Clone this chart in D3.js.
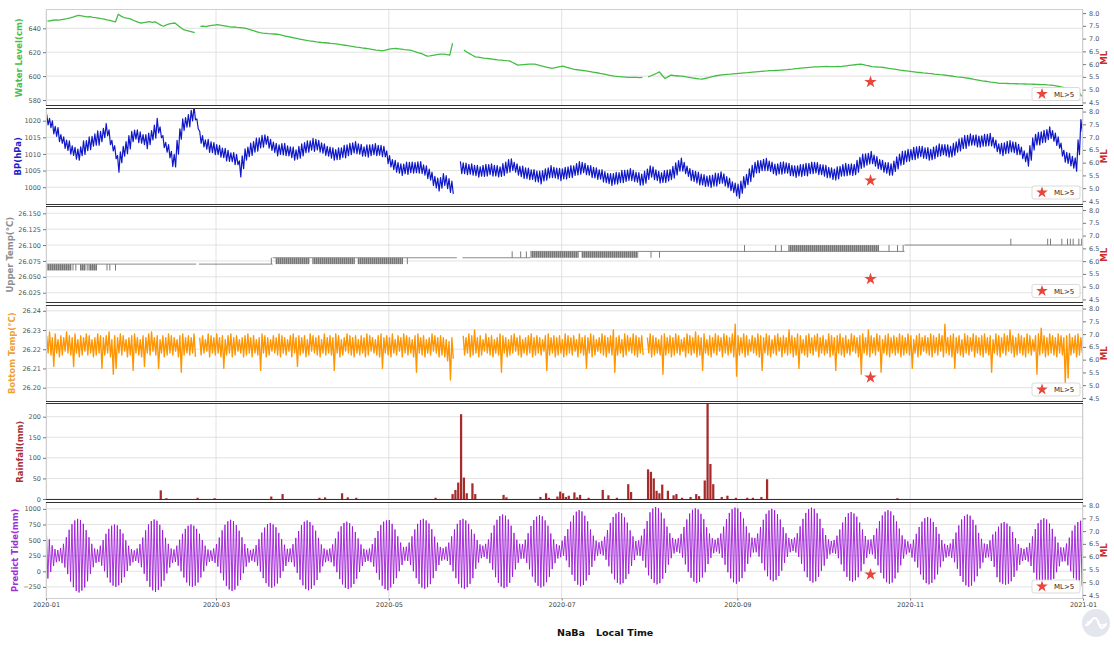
<!DOCTYPE html>
<html>
<head>
<meta charset="utf-8">
<script src="https://cdn.jsdelivr.net/npm/d3@7"></script>
<style>
  body { margin: 0; background: #fff; }
  svg { display: block; font-family: "DejaVu Sans", sans-serif; }
</style>
</head>
<body>
<svg id="chart" width="1114" height="646"></svg>
<script>
// ---------------- data (NaBa station, 2020, one entry per day from 2020-01-01) ----------------
const startDay = "2020-01-01";
const endDay = "2021-01-01";
const monthTicks = ["2020-01-01","2020-03-01","2020-05-01","2020-07-01","2020-09-01","2020-11-01","2021-01-01"];

// daily water level (cm)
const waterLevel = [
646.0,646.3,646.7,647.0,646.8,647.2,647.6,648.0,648.6,649.3,650.1,
650.8,650.4,650.0,649.6,649.8,649.2,648.9,648.5,648.0,647.6,
647.0,646.6,645.9,645.3,651.7,650.2,649.0,648.4,648.0,647.1,
646.0,645.2,644.4,644.8,645.2,645.6,645.0,645.3,644.0,642.6,
641.7,642.8,643.6,644.1,644.4,642.5,640.6,638.9,638.2,637.6,
637.0,636.4,null,641.5,641.8,641.4,642.0,642.4,642.7,643.0,
642.6,642.2,641.8,641.3,641.0,641.2,640.8,640.6,640.3,640.0,
639.2,638.5,637.8,637.0,636.3,636.0,635.8,635.5,635.3,635.2,
635.0,634.6,634.0,633.5,633.0,632.5,632.0,631.5,631.0,630.5,
630.0,629.6,629.3,629.0,628.6,628.3,628.0,627.9,627.7,627.4,
627.2,627.0,626.6,626.2,625.8,625.4,625.0,624.7,624.3,624.0,
623.6,623.3,623.0,622.6,622.2,621.8,621.5,621.1,621.6,622.2,
622.7,623.0,623.1,622.8,622.5,622.2,622.0,621.7,621.0,620.2,
619.5,618.9,617.8,616.7,617.0,617.4,617.8,618.2,618.4,618.3,
618.0,617.5,627.5,null,null,null,621.7,620.2,618.8,617.4,
616.1,615.8,615.4,615.0,614.8,614.5,614.2,613.9,613.6,613.4,
613.1,612.9,612.8,611.6,610.4,609.2,609.4,609.6,609.8,610.0,
610.1,610.0,609.4,608.8,608.2,607.6,607.0,606.4,606.9,607.5,
608.0,608.3,607.6,606.9,606.2,605.6,605.3,605.0,604.7,604.4,
604.0,603.6,603.2,602.8,602.3,601.9,601.4,600.9,600.4,600.0,
599.7,599.5,599.3,599.1,598.9,598.9,599.0,598.9,598.8,598.9,
null,599.4,600.3,601.3,602.4,603.6,600.5,598.0,599.4,600.8,
600.5,600.3,600.1,600.0,599.6,599.2,598.8,598.4,598.0,597.7,
597.5,598.0,598.6,599.2,599.8,600.3,600.7,601.0,601.2,601.4,
601.6,601.9,602.1,602.3,602.5,602.7,602.9,603.2,603.4,603.6,
603.8,604.0,604.2,604.3,604.5,604.6,604.7,604.8,605.0,605.2,
605.4,605.7,605.9,606.2,606.4,606.7,606.9,607.1,607.3,607.5,
607.7,607.8,608.0,608.0,608.1,608.0,607.9,608.0,608.1,608.0,
608.3,608.6,608.9,609.2,609.5,609.8,610.0,609.6,609.0,608.5,
608.0,607.8,607.6,607.5,607.2,606.8,606.4,606.1,605.8,605.4,
605.0,604.7,604.4,604.1,603.8,603.5,603.2,603.0,602.7,602.5,
602.2,602.0,601.7,601.5,601.2,601.0,600.7,600.4,600.1,599.7,
599.4,599.2,599.0,598.6,598.2,597.8,597.3,596.9,596.5,596.0,
595.7,595.4,595.0,594.7,594.4,594.0,594.0,593.9,593.8,593.7,
593.7,593.6,593.5,593.5,593.4,593.3,593.3,593.2,593.1,593.0,
592.9,592.8,592.6,592.5,592.2,591.8,591.3,590.8,590.3,589.7,
589.2,589.0,588.6,587.0,583.0
];

// daily mean barometric pressure (hPa)
const bpMean = [
1020.3,1019.3,1018.0,1016.8,1015.8,1014.5,1013.4,1012.6,1011.9,1011.0,
1010.2,1009.8,1010.8,1011.9,1012.5,1013.2,1013.8,1014.3,1014.8,1015.2,
1016.3,1017.3,1015.0,1012.5,1010.5,1007.0,1009.0,1010.8,1011.9,1013.5,
1015.2,1015.8,1015.3,1014.9,1014.3,1013.7,1014.5,1015.6,1016.7,1018.5,
1016.5,1013.7,1012.0,1010.8,1008.5,1008.0,1012.0,1016.0,1018.8,1019.5,
1020.0,1021.5,1022.3,1019.0,1015.0,1013.8,1012.8,1012.4,1012.0,1011.6,
1011.3,1010.8,1010.3,1009.8,1009.4,1009.0,1008.6,1008.3,1005.5,1007.5,
1009.8,1010.6,1011.4,1012.1,1012.8,1013.3,1013.8,1014.3,1013.5,1012.7,
1012.0,1011.3,1011.3,1011.4,1011.3,1010.9,1010.5,1010.1,1009.8,1010.5,
1011.2,1011.9,1012.2,1012.5,1012.7,1012.8,1012.3,1011.8,1011.3,1010.8,
1010.4,1010.0,1009.8,1010.1,1010.4,1010.7,1011.1,1011.5,1011.8,1011.9,
1011.5,1011.1,1010.7,1010.9,1011.1,1011.3,1011.3,1011.1,1010.9,1010.7,
1009.0,1007.8,1006.8,1006.3,1005.8,1005.3,1005.5,1005.7,1005.9,1005.9,
1005.9,1005.9,1005.9,1005.2,1004.5,1003.8,1002.5,1001.5,1000.8,1001.3,
1002.3,1001.5,1000.5,999.9,null,null,1005.9,1005.7,1005.5,1005.4,
1005.3,1005.0,1004.8,1004.7,1004.9,1005.1,1005.3,1005.2,1005.0,1004.8,
1004.7,1005.3,1005.9,1006.4,1006.8,1006.0,1005.3,1004.7,1004.5,1004.2,
1004.0,1003.8,1003.5,1003.2,1002.9,1003.4,1003.8,1004.3,1004.7,1004.4,
1004.1,1003.8,1004.0,1004.2,1004.5,1004.7,1005.0,1005.4,1005.8,1005.9,
1005.5,1005.1,1004.7,1004.4,1004.1,1003.8,1003.4,1003.0,1002.6,1002.3,
1002.5,1002.7,1002.9,1003.2,1003.4,1003.6,1003.8,1003.4,1003.0,1002.5,
1002.3,1003.0,1003.9,1004.7,1004.2,1003.6,1003.0,1002.9,1003.2,1003.5,
1003.8,1004.5,1005.5,1006.4,1006.8,1005.8,1004.8,1003.8,1003.4,1003.0,
1002.6,1002.3,1002.0,1001.8,1001.7,1002.0,1002.3,1002.6,1002.9,1002.2,
1001.5,1000.8,1000.0,999.3,998.8,1000.0,1001.5,1002.3,1003.6,1004.8,
1005.9,1006.2,1006.5,1006.7,1006.8,1006.3,1005.8,1005.3,1005.5,1005.7,
1005.9,1005.8,1005.3,1005.0,1004.7,1004.9,1005.0,1005.2,1005.3,1005.6,
1005.8,1005.9,1005.6,1005.3,1005.0,1004.7,1004.4,1004.1,1003.8,1004.3,
1004.8,1005.1,1005.3,1005.3,1005.3,1005.3,1006.3,1007.3,1008.0,1008.3,
1008.6,1008.9,1008.0,1007.4,1006.8,1006.3,1005.8,1005.5,1005.3,1006.3,
1007.3,1008.3,1008.8,1009.3,1009.6,1009.8,1010.1,1010.4,1010.7,1010.5,
1010.2,1010.0,1009.8,1010.3,1010.8,1011.2,1011.3,1011.1,1010.9,1010.7,
1011.4,1012.1,1012.7,1013.2,1013.6,1014.0,1014.3,1014.1,1013.9,1013.7,
1013.9,1014.1,1014.2,1014.3,1013.4,1012.4,1011.5,1011.3,1011.7,1012.0,
1012.3,1012.0,1011.6,1011.3,1010.3,1009.3,1008.3,1010.3,1013.0,1014.3,
1014.6,1015.0,1015.3,1015.8,1016.4,1015.4,1014.4,1013.4,1011.3,1009.3,
1008.8,1008.3,1007.5,1006.8,1012.0,1018.5
];

// daily pressure range (hPa)
const bpRange = [
3.2,2.8,3.9,3.0,4.2,2.6,3.5,3.1,4.0,2.9,
3.6,3.3,2.7,4.1,3.0,3.8,2.9,3.4,4.3,3.1,
2.8,3.7,4.5,3.2,3.9,5.0,3.3,2.9,3.6,4.0,
3.1,2.7,3.8,3.4,3.0,4.2,3.5,2.8,3.9,4.4,
3.3,3.6,2.9,4.0,4.6,3.8,4.2,3.1,3.5,2.9,
3.7,3.2,4.1,3.0,3.6,3.4,2.8,3.9,3.2,3.6,
3.0,3.5,2.9,3.8,3.3,2.7,3.6,3.1,4.8,3.9,
3.4,2.9,3.7,3.2,3.9,3.0,3.5,2.8,3.6,3.3,
3.1,3.8,2.9,3.4,3.7,3.0,3.3,3.9,2.8,3.5,
3.6,3.0,3.4,2.8,3.9,3.2,3.6,3.1,3.5,2.9,
3.3,3.7,3.0,3.5,2.9,3.8,3.2,3.4,3.0,3.6,
3.1,3.5,2.8,3.7,3.3,3.0,3.6,2.9,3.4,3.2,
3.8,3.4,3.0,3.6,3.2,3.5,2.9,3.7,3.1,3.3,
3.0,3.4,3.6,3.1,3.8,3.3,4.0,3.5,3.9,3.2,
3.6,3.9,4.2,3.8,3.0,3.0,3.7,3.2,3.5,2.9,
3.4,3.1,3.6,2.8,3.3,3.5,3.0,3.7,3.2,3.4,
2.9,3.6,3.3,3.8,3.5,3.0,3.4,3.1,3.7,3.2,
3.5,2.9,3.6,3.3,3.8,3.1,3.4,3.0,3.6,3.2,
3.3,3.7,3.0,3.5,3.2,3.6,2.9,3.4,3.8,3.1,
3.4,3.0,3.6,3.2,3.5,2.8,3.7,3.3,3.1,3.6,
3.2,3.5,3.0,3.7,3.3,3.1,3.6,3.4,3.0,3.8,
3.3,3.6,3.1,3.4,3.8,3.2,3.5,2.9,3.6,3.3,
3.0,3.5,3.7,3.2,3.9,3.4,3.1,3.6,3.3,3.5,
3.8,3.2,3.5,3.0,3.6,3.3,3.9,3.1,3.4,3.6,
3.3,3.7,3.2,3.9,4.2,3.6,3.4,3.1,3.8,3.5,
3.2,3.6,3.0,3.4,3.7,3.1,3.5,3.3,3.0,3.6,
3.4,3.1,3.7,3.2,3.5,3.0,3.6,3.3,3.8,3.1,
3.5,3.2,3.6,3.0,3.4,3.7,3.1,3.5,3.3,3.6,
3.0,3.4,3.7,3.2,3.5,3.1,3.6,3.3,3.9,3.4,
3.2,3.7,3.3,3.6,3.0,3.5,3.2,3.8,3.4,3.1,
3.6,3.3,3.9,3.2,3.5,3.0,3.7,3.4,3.1,3.6,
3.3,3.8,3.1,3.5,3.2,3.6,3.0,3.4,3.7,3.2,
3.5,3.1,3.6,3.3,3.9,3.2,3.4,3.0,3.6,3.3,
3.1,3.6,3.4,3.8,3.2,3.5,3.0,3.7,3.3,3.6,
3.4,3.2,3.7,3.1,3.5,3.3,3.9,4.4,3.6,3.2,
3.8,3.3,3.6,3.0,3.5,3.2,3.7,3.4,3.9,3.6,
3.3,3.8,3.5,4.0,4.4,3.6
];

// upper sensor temperature (°C): steady readings and periods flickering between two levels
const upperSteady = [
  ["2020-01-01","2020-02-23",26.07],
  ["2020-02-24","2020-03-21",26.07],
  ["2020-03-21","2020-05-25",26.08],
  ["2020-05-27","2020-06-20",26.08],
  ["2020-06-20","2020-10-30",26.09],
  ["2020-10-30","2021-01-01",26.10]
];
const upperFlicker = [
  ["2020-01-01","2020-01-09",26.06,26.07],
  ["2020-01-10","2020-01-10",26.06,26.07],
  ["2020-01-11","2020-01-11",26.06,26.07],
  ["2020-01-13","2020-01-14",26.06,26.07],
  ["2020-01-15","2020-01-15",26.06,26.07],
  ["2020-01-16","2020-01-18",26.06,26.07],
  ["2020-01-22","2020-01-22",26.06,26.07],
  ["2020-01-23","2020-01-23",26.06,26.07],
  ["2020-01-25","2020-01-25",26.06,26.07],
  ["2020-03-20","2020-03-20",26.07,26.08],
  ["2020-03-22","2020-04-02",26.07,26.08],
  ["2020-04-04","2020-04-18",26.07,26.08],
  ["2020-04-20","2020-05-05",26.07,26.08],
  ["2020-05-07","2020-05-07",26.07,26.08],
  ["2020-06-13","2020-06-13",26.08,26.09],
  ["2020-06-16","2020-06-16",26.08,26.09],
  ["2020-06-18","2020-06-18",26.08,26.09],
  ["2020-06-20","2020-07-06",26.08,26.09],
  ["2020-07-08","2020-07-27",26.08,26.09],
  ["2020-08-01","2020-08-01",26.08,26.09],
  ["2020-08-04","2020-08-04",26.08,26.09],
  ["2020-09-03","2020-09-03",26.09,26.10],
  ["2020-09-14","2020-09-14",26.09,26.10],
  ["2020-09-16","2020-09-16",26.09,26.10],
  ["2020-09-19","2020-10-20",26.09,26.10],
  ["2020-10-24","2020-10-24",26.09,26.10],
  ["2020-10-27","2020-10-27",26.09,26.10],
  ["2020-10-29","2020-10-29",26.09,26.10],
  ["2020-12-06","2020-12-06",26.10,26.11],
  ["2020-12-19","2020-12-19",26.10,26.11],
  ["2020-12-20","2020-12-20",26.10,26.11],
  ["2020-12-24","2020-12-24",26.10,26.11],
  ["2020-12-26","2020-12-26",26.10,26.11],
  ["2020-12-27","2020-12-27",26.10,26.11],
  ["2020-12-28","2020-12-28",26.10,26.11],
  ["2020-12-30","2020-12-30",26.10,26.11],
  ["2020-12-31","2020-12-31",26.10,26.11]
];

// daily max / min bottom temperature (°C)
const bottomMax = [
26.227,26.229,26.226,26.228,26.225,26.227,26.226,26.229,26.227,26.226,
26.228,26.225,26.227,26.226,26.228,26.227,26.225,26.226,26.228,26.227,
26.226,26.227,26.229,26.225,26.227,26.226,26.228,26.227,26.225,26.226,
26.227,26.228,26.226,26.225,26.227,26.226,26.228,26.229,26.226,26.227,
26.225,26.227,26.226,26.228,26.227,26.226,26.225,26.227,26.228,26.226,
26.227,26.226,26.228,null,26.226,26.227,26.225,26.228,26.227,26.226,
26.228,26.226,26.227,26.225,26.227,26.228,26.226,26.227,26.225,26.226,
26.227,26.228,26.226,26.227,26.225,26.226,26.228,26.227,26.226,26.225,
26.227,26.226,26.228,26.227,26.226,26.225,26.227,26.228,26.226,26.227,
26.226,26.227,26.225,26.228,26.227,26.226,26.227,26.225,26.228,26.226,
26.227,26.226,26.228,26.227,26.225,26.226,26.228,26.227,26.226,26.227,
26.225,26.227,26.226,26.228,26.227,26.226,26.225,26.227,26.228,26.226,
26.227,26.226,26.228,26.225,26.227,26.226,26.228,26.227,26.226,26.225,
26.227,26.228,26.226,26.227,26.225,26.226,26.228,26.227,26.226,26.227,
26.226,26.225,26.224,26.226,null,null,null,26.227,26.226,26.228,
26.227,26.230,26.226,26.227,26.225,26.228,26.226,26.227,26.225,26.226,
26.228,26.227,26.226,26.225,26.227,26.228,26.226,26.227,26.225,26.226,
26.227,26.228,26.226,26.227,26.226,26.225,26.227,26.228,26.226,26.227,
26.226,26.227,26.225,26.228,26.227,26.226,26.227,26.225,26.228,26.226,
26.227,26.226,26.228,26.227,26.225,26.226,26.228,26.227,26.226,26.227,
26.230,26.226,26.227,26.225,26.228,26.227,26.226,26.228,26.227,26.226,
26.227,null,26.226,26.228,26.227,26.226,26.225,26.227,26.228,26.226,
26.227,26.226,26.228,26.227,26.225,26.226,26.228,26.227,26.226,26.229,
26.227,26.226,26.228,26.225,26.227,26.226,26.228,26.227,26.226,26.228,
26.227,26.226,26.228,26.233,26.227,26.226,26.228,26.227,26.225,26.227,
26.226,26.228,26.227,26.226,26.228,26.227,26.225,26.227,26.228,26.226,
26.227,26.226,26.230,26.227,26.226,26.228,26.227,26.225,26.227,26.228,
26.226,26.227,26.228,26.226,26.227,26.225,26.228,26.227,26.226,26.227,
26.228,26.226,26.227,26.225,26.228,26.227,26.226,26.227,26.228,26.226,
26.230,26.227,26.226,26.228,26.227,26.225,26.227,26.228,26.226,26.227,
26.226,26.228,26.227,26.226,26.228,26.227,26.225,26.227,26.228,26.226,
26.227,26.226,26.228,26.227,26.226,26.228,26.227,26.233,26.226,26.227,
26.228,26.226,26.227,26.225,26.228,26.227,26.226,26.228,26.227,26.226,
26.227,26.228,26.226,26.227,26.225,26.228,26.227,26.226,26.228,26.227,
26.230,26.227,26.226,26.228,26.227,26.226,26.228,26.227,26.225,26.227,
26.228,26.231,26.227,26.226,26.228,26.227,26.226,26.228,26.227,26.226,
26.227,26.228,26.226,26.227,26.228,26.226
];
const bottomMin = [
26.218,26.217,26.211,26.218,26.216,26.217,26.219,26.218,26.217,26.211,
26.218,26.216,26.217,26.219,26.217,26.218,26.216,26.217,26.218,26.210,
26.217,26.218,26.216,26.207,26.210,26.218,26.217,26.219,26.216,26.217,
26.209,26.218,26.217,26.216,26.211,26.218,26.217,26.219,26.217,26.210,
26.218,26.216,26.217,26.218,26.217,26.219,26.216,26.208,26.217,26.218,
26.217,26.218,26.216,null,26.217,26.218,26.219,26.216,26.218,26.217,
26.218,26.216,26.210,26.217,26.218,26.216,26.217,26.219,26.218,26.216,
26.217,26.218,26.216,26.218,26.217,26.209,26.218,26.216,26.217,26.219,
26.218,26.217,26.216,26.218,26.217,26.219,26.216,26.218,26.211,26.217,
26.218,26.216,26.217,26.219,26.218,26.217,26.216,26.218,26.217,26.218,
26.217,26.209,26.218,26.216,26.217,26.219,26.218,26.217,26.216,26.218,
26.217,26.218,26.216,26.217,26.219,26.218,26.217,26.216,26.210,26.218,
26.217,26.216,26.218,26.217,26.219,26.216,26.218,26.217,26.218,26.216,
26.208,26.218,26.217,26.216,26.218,26.217,26.219,26.218,26.216,26.217,
26.216,26.214,26.204,26.215,null,null,null,26.217,26.218,26.216,
26.217,26.218,26.216,26.217,26.219,26.218,26.217,26.216,26.218,26.217,
26.208,26.218,26.216,26.217,26.218,26.219,26.217,26.216,26.218,26.217,
26.218,26.216,26.217,26.218,26.217,26.219,26.209,26.217,26.218,26.216,
26.217,26.218,26.216,26.217,26.218,26.217,26.219,26.216,26.218,26.217,
26.210,26.218,26.216,26.217,26.219,26.218,26.217,26.216,26.218,26.217,
26.208,26.217,26.218,26.216,26.217,26.219,26.218,26.217,26.216,26.218,
26.217,null,26.218,26.216,26.217,26.218,26.217,26.207,26.217,26.218,
26.216,26.217,26.218,26.217,26.219,26.216,26.218,26.217,26.218,26.216,
26.217,26.209,26.218,26.217,26.216,26.218,26.217,26.219,26.216,26.218,
26.217,26.218,26.216,26.206,26.217,26.218,26.216,26.217,26.219,26.218,
26.217,26.216,26.209,26.218,26.217,26.216,26.218,26.217,26.219,26.216,
26.218,26.217,26.218,26.216,26.217,26.210,26.218,26.217,26.216,26.218,
26.217,26.219,26.216,26.218,26.217,26.218,26.216,26.217,26.209,26.218,
26.217,26.216,26.218,26.217,26.219,26.218,26.216,26.207,26.218,26.217,
26.216,26.218,26.217,26.219,26.208,26.218,26.217,26.216,26.218,26.217,
26.218,26.216,26.217,26.218,26.217,26.210,26.218,26.216,26.217,26.219,
26.218,26.217,26.216,26.218,26.217,26.219,26.216,26.218,26.217,26.216,
26.210,26.218,26.217,26.216,26.218,26.217,26.219,26.216,26.218,26.217,
26.216,26.218,26.217,26.208,26.218,26.217,26.216,26.218,26.217,26.219,
26.218,26.216,26.217,26.218,26.217,26.216,26.218,26.217,26.219,26.207,
26.217,26.218,26.216,26.217,26.218,26.217,26.216,26.218,26.217,26.202,
26.205,26.217,26.218,26.216,26.217,26.218
];

// daily rainfall (mm), days with rain only
const rainfall = [
  ["2020-02-10",21],["2020-02-12",2],["2020-02-23",3],["2020-02-29",2],["2020-03-20",6],
  ["2020-03-24",12],["2020-04-06",3],["2020-04-08",4],["2020-04-14",14],["2020-04-16",4],
  ["2020-04-19",3],["2020-05-17",3],["2020-05-23",12],["2020-05-24",22],["2020-05-25",40],
  ["2020-05-26",206],["2020-05-27",52],["2020-05-28",14],["2020-05-30",38],["2020-05-31",12],
  ["2020-06-10",10],["2020-06-11",4],["2020-06-23",5],["2020-06-25",14],["2020-06-26",3],
  ["2020-06-29",6],["2020-06-30",18],["2020-07-01",14],["2020-07-02",5],["2020-07-03",8],
  ["2020-07-05",16],["2020-07-06",4],["2020-07-07",10],["2020-07-10",3],["2020-07-15",22],
  ["2020-07-17",9],["2020-07-20",3],["2020-07-24",36],["2020-07-25",17],["2020-07-31",72],
  ["2020-08-01",66],["2020-08-02",50],["2020-08-03",20],["2020-08-04",14],["2020-08-05",35],
  ["2020-08-07",20],["2020-08-09",9],["2020-08-10",12],["2020-08-12",3],["2020-08-15",5],
  ["2020-08-17",12],["2020-08-18",7],["2020-08-20",45],["2020-08-21",240],["2020-08-22",85],
  ["2020-08-23",36],["2020-08-26",5],["2020-08-28",8],["2020-08-31",3],["2020-09-04",3],
  ["2020-09-06",3],["2020-09-09",5],["2020-09-11",48],["2020-10-27",2]
];

// predicted tide: daily high water and low water (mm)
const tideHigh = [
615,510,415,355,340,370,440,545,665,755,
815,840,820,760,660,545,440,365,350,410,
500,600,680,730,750,735,675,605,495,410,
355,335,365,435,540,655,750,805,830,810,
745,660,535,440,365,350,410,505,600,680,
730,750,730,680,600,500,410,350,335,365,
435,540,655,745,800,825,805,740,650,545,
435,370,340,360,420,515,620,700,755,775,
750,705,615,515,425,360,365,435,535,645,
740,795,815,790,735,650,535,430,365,345,
365,430,525,635,720,775,795,770,720,630,
525,430,360,345,365,435,535,645,740,795,
815,820,760,670,560,460,390,395,460,560,
670,760,820,840,815,765,675,555,460,390,
370,395,460,560,670,760,820,840,815,760,
670,600,500,430,410,440,510,615,735,825,
885,910,890,830,730,615,505,440,435,505,
610,725,820,875,900,880,815,730,605,510,
435,415,490,565,675,795,895,955,980,960,
890,800,670,570,490,465,485,555,660,775,
870,925,950,930,865,780,655,560,485,495,
570,680,805,945,1005,1030,1010,940,845,715,
610,535,510,530,600,710,830,925,985,1010,
990,920,835,705,605,530,505,535,605,715,
835,935,995,1020,1005,950,845,720,615,540,
535,605,710,825,920,975,1000,980,915,830,
705,610,535,515,540,610,720,840,935,995,
1020,1000,930,840,690,580,510,485,500,570,
670,780,870,930,950,925,875,780,670,565,
505,510,580,685,805,895,955,980,960,895,
800,685,575,510,480,440,505,600,710,795,
850,870,845,790,710,600,500,440,420,445,
515,620,735,830,885,910,890,825,740,615,
520,445,435,495,590,635,715,770,790,765,
720,630,530,435,375,360,385,455,560,675,
770,825,850,830,765,680,555,460,385,380,
445,540,650,735,790,810
];
const tideLow = [
-115,-10,85,145,160,130,60,-45,-165,-255,
-315,-340,-310,-260,-160,-40,65,135,150,90,
0,-100,-180,-230,-250,-225,-185,-95,5,90,
145,165,135,65,-40,-155,-250,-305,-330,-300,
-245,-150,-35,60,135,150,90,0,-100,-180,
-230,-250,-230,-180,-100,0,90,150,165,135,
75,-30,-145,-235,-290,-315,-295,-230,-140,-30,
75,140,170,150,90,-5,-110,-190,-245,-265,
-240,-195,-105,0,85,150,145,75,-25,-135,
-225,-285,-305,-280,-225,-140,-20,80,145,165,
145,80,-15,-125,-210,-265,-285,-260,-205,-120,
-10,85,150,165,145,75,-25,-135,-230,-285,
-305,-260,-200,-110,0,100,170,165,100,0,
-110,-200,-260,-280,-255,-205,-110,5,100,170,
190,165,100,0,-110,-200,-260,-280,-255,-200,
-110,40,140,210,230,200,130,25,-95,-185,
-245,-270,-250,-185,-90,30,135,200,205,135,
30,-85,-180,-235,-260,-240,-175,-90,35,130,
205,225,250,175,65,-55,-155,-215,-240,-220,
-150,-60,70,170,250,275,255,185,80,-35,
-130,-185,-210,-190,-125,-40,85,180,255,245,
170,60,-65,-125,-185,-210,-190,-120,-25,105,
210,285,310,290,220,110,-10,-105,-165,-190,
-170,-100,-15,115,215,290,315,285,215,105,
-15,-115,-175,-200,-165,-110,-5,120,225,300,
305,235,130,15,-80,-135,-160,-140,-75,10,
135,230,305,325,300,230,120,0,-95,-155,
-180,-160,-90,5,90,200,270,295,280,210,
110,0,-90,-150,-170,-145,-95,0,115,215,
275,270,200,95,-25,-115,-175,-200,-180,-115,
-20,95,205,270,300,220,155,60,-50,-135,
-190,-210,-185,-130,-50,65,160,220,240,215,
145,40,-75,-170,-225,-250,-230,-165,-80,45,
140,215,225,165,70,-95,-175,-200,-215,-200,
-160,-90,10,105,165,180,155,85,-20,-135,
-200,-240,-255,-245,-200,-120,-15,80,155,160,
95,0,-110,-170,-215,-230
];

// local magnitude events above the ML 5 threshold
const mlEvents = [["2020-10-18", 5.3]];

// axis tick values
const waterTicks = [580, 600, 620, 640];
const bpTicks = [1000, 1005, 1010, 1015, 1020];
const upperTicks = [26.025, 26.05, 26.075, 26.1, 26.125, 26.15];
const bottomTicks = [26.20, 26.21, 26.22, 26.23, 26.24];
const rainTicks = [0, 50, 100, 150, 200];
const tideTicks = [-250, 0, 250, 500, 750, 1000];
const mlTicks = [4.5, 5.0, 5.5, 6.0, 6.5, 7.0, 7.5, 8.0];

// ---------------- layout ----------------
const svg = d3.select("#chart");
const parseDay = d3.timeParse("%Y-%m-%d");
const t0 = parseDay(startDay), t1 = parseDay(endDay);
const X0 = 46, X1 = 1083;
const x = d3.scaleTime().domain([t0, t1]).range([X0, X1]);
const at = (i, h) => d3.timeHour.offset(d3.timeDay.offset(t0, i), h);
const monthDates = monthTicks.map(parseDay);

const PANEL_TOP = 9.5, PANEL_STEP = 98.5, PANEL_H = 96.5;
const GRID = "#dadada";
const ML_COLOR = "#cc2a2a";
const STAR_COLOR = "#e8453c";

const panels = [
  {id: "wl", title: "Water Level(cm)",  color: "#4cbd4c", titleX: 22,   domain: [575, 655.7],       ticks: waterTicks,  fmt: d3.format("d"),   ml: true},
  {id: "bp", title: "BP(hPa)",          color: "#1a22c4", titleX: 21,   domain: [994.8, 1023.8],    ticks: bpTicks,     fmt: d3.format("d"),   ml: true},
  {id: "ut", title: "Upper Temp(°C)",   color: "#8e8e8e", titleX: 12.5, domain: [26.0088, 26.1607], ticks: upperTicks,  fmt: d3.format(".3f"), ml: true},
  {id: "bt", title: "Bottom Temp(°C)",  color: "#eea236", titleX: 15,   domain: [26.1928, 26.2430], ticks: bottomTicks, fmt: d3.format(".2f"), ml: true},
  {id: "rf", title: "Rainfall(mm)",     color: "#a3313a", titleX: 23,   domain: [-2.4, 232],        ticks: rainTicks,   fmt: d3.format("d"),   ml: false},
  {id: "pt", title: "Predict Tide(mm)", color: "#a12fd6", titleX: 18,   domain: [-436, 1110],       ticks: tideTicks,   fmt: d3.format("d"),   ml: true}
];
panels.forEach((p, i) => {
  p.top = PANEL_TOP + i * PANEL_STEP;
  p.bottom = p.top + PANEL_H;
  p.y = d3.scaleLinear().domain(p.domain).range([p.bottom, p.top]);
  p.mlScale = d3.scaleLinear().domain([4.36, 8.14]).range([p.bottom, p.top]);
});
const P = Object.fromEntries(panels.map(p => [p.id, p]));

const defs = svg.append("defs");
panels.forEach(p => {
  defs.append("clipPath").attr("id", "clip-" + p.id)
    .append("rect").attr("x", X0).attr("y", p.top).attr("width", X1 - X0).attr("height", PANEL_H);
});
// hatch used for the flickering upper-temperature readings
const hatch = defs.append("pattern").attr("id", "flick").attr("patternUnits", "userSpaceOnUse")
  .attr("width", 2).attr("height", 4);
hatch.append("rect").attr("width", 2).attr("height", 4).attr("fill", "#a2a2a2");
hatch.append("rect").attr("width", 1).attr("height", 4).attr("fill", "#767676");

// grid
panels.forEach(p => {
  const g = svg.append("g").attr("class", "grid");
  g.selectAll("line.h").data(p.ticks).join("line")
    .attr("x1", X0).attr("x2", X1)
    .attr("y1", d => p.y(d)).attr("y2", d => p.y(d))
    .attr("stroke", GRID).attr("stroke-width", 0.8);
  g.selectAll("line.v").data(monthDates).join("line")
    .attr("x1", d => x(d)).attr("x2", d => x(d))
    .attr("y1", p.top).attr("y2", p.bottom)
    .attr("stroke", GRID).attr("stroke-width", 0.8);
});

const layer = id => svg.append("g").attr("clip-path", `url(#clip-${id})`);
const pathOf = p => d3.line().defined(d => d.v != null).x(d => x(d.t)).y(d => p.y(d.v));

// water level
{
  const p = P.wl;
  const pts = waterLevel.map((v, i) => ({t: at(i, 12), v}));
  layer("wl").append("path").attr("d", pathOf(p)(pts))
    .attr("fill", "none").attr("stroke", "#45bd45").attr("stroke-width", 1.3).attr("stroke-linejoin", "round");
}

// barometric pressure: daily swing around the mean
{
  const p = P.bp;
  const pts = [];
  bpMean.forEach((m, i) => {
    const r = bpRange[i] / 2;
    pts.push({t: at(i, 6), v: m == null ? null : m + r});
    pts.push({t: at(i, 18), v: m == null ? null : m - r});
  });
  layer("bp").append("path").attr("d", pathOf(p)(pts))
    .attr("fill", "none").attr("stroke", "#0f18c8").attr("stroke-width", 1.2).attr("stroke-linejoin", "round");
}

// upper temperature
{
  const p = P.ut;
  const g = layer("ut");
  g.selectAll("line.steady").data(upperSteady).join("line")
    .attr("x1", d => x(parseDay(d[0]))).attr("x2", d => x(parseDay(d[1])))
    .attr("y1", d => p.y(d[2])).attr("y2", d => p.y(d[2]))
    .attr("stroke", "#8a8a8a").attr("stroke-width", 1);
  g.selectAll("rect.flick").data(upperFlicker).join("rect")
    .attr("x", d => x(parseDay(d[0])) + (d[0] === d[1] ? 1 : 0))
    .attr("width", d => d[0] === d[1] ? 1 : x(d3.timeDay.offset(parseDay(d[1]), 1)) - x(parseDay(d[0])))
    .attr("y", d => p.y(d[3]))
    .attr("height", d => p.y(d[2]) - p.y(d[3]))
    .attr("fill", d => d[0] === d[1] ? "#7c7c7c" : "url(#flick)");
}

// bottom temperature: daily max and min
{
  const p = P.bt;
  const pts = [];
  bottomMax.forEach((v, i) => {
    pts.push({t: at(i, 6), v});
    pts.push({t: at(i, 18), v: bottomMin[i]});
  });
  layer("bt").append("path").attr("d", pathOf(p)(pts))
    .attr("fill", "none").attr("stroke", "#ff9500").attr("stroke-width", 1.35).attr("stroke-linejoin", "round");
}

// rainfall bars
{
  const p = P.rf;
  layer("rf").selectAll("rect").data(rainfall).join("rect")
    .attr("x", d => x(parseDay(d[0])) + 0.3)
    .attr("width", d => Math.max(1.4, x(d3.timeDay.offset(parseDay(d[0]), 1)) - x(parseDay(d[0])) - 0.6))
    .attr("y", d => p.y(d[1]))
    .attr("height", d => p.y(0) - p.y(d[1]))
    .attr("fill", "#a52a2a");
}

// predicted tide: high and low water each day
{
  const p = P.pt;
  const pts = [];
  tideHigh.forEach((v, i) => {
    pts.push({t: at(i, 4), v});
    pts.push({t: at(i, 16), v: tideLow[i]});
  });
  layer("pt").append("path").attr("d", pathOf(p)(pts))
    .attr("fill", "none").attr("stroke", "#9a12d4").attr("stroke-width", 0.85).attr("stroke-linejoin", "round");
}

// ML event markers, right-hand ML axis, legend
const star = d3.symbol().type(d3.symbolStar);
panels.filter(p => p.ml).forEach(p => {
  svg.append("g").selectAll("path").data(mlEvents).join("path")
    .attr("transform", d => `translate(${x(parseDay(d[0]))},${p.mlScale(d[1])})`)
    .attr("d", star.size(48)())
    .attr("fill", STAR_COLOR);

  const ax = svg.append("g").attr("transform", `translate(${X1},0)`)
    .call(d3.axisRight(p.mlScale).tickValues(mlTicks).tickSize(3).tickPadding(3).tickFormat(d3.format(".1f")));
  ax.select(".domain").remove();
  ax.selectAll("line").attr("stroke", "#777");
  ax.selectAll("text").attr("font-size", "6.5px").attr("fill", "#555").attr("font-family", "DejaVu Sans, sans-serif");

  svg.append("text")
    .attr("transform", `translate(1107,${(p.top + p.bottom) / 2}) rotate(-90)`)
    .attr("text-anchor", "middle").attr("font-size", "8.5px").attr("font-weight", "bold")
    .attr("fill", ML_COLOR).text("ML");

  const lg = svg.append("g").attr("transform", `translate(1032,${p.bottom - 18.5})`);
  lg.append("rect").attr("width", 48).attr("height", 13).attr("rx", 2)
    .attr("fill", "#fff").attr("stroke", "#d2d2d2").attr("stroke-width", 0.8);
  lg.append("path").attr("transform", "translate(10,6.5)").attr("d", star.size(42)()).attr("fill", STAR_COLOR);
  lg.append("text").attr("x", 22).attr("y", 9.3).attr("font-size", "7px").attr("fill", "#222").text("ML>5");
});

// left axes, titles, frames
panels.forEach((p, i) => {
  const ax = svg.append("g").attr("transform", `translate(${X0},0)`)
    .call(d3.axisLeft(p.y).tickValues(p.ticks).tickSize(3).tickPadding(2).tickFormat(p.fmt));
  ax.select(".domain").remove();
  ax.selectAll("line").attr("stroke", "#777");
  ax.selectAll("text").attr("font-size", "6.5px").attr("fill", "#555").attr("font-family", "DejaVu Sans, sans-serif");

  svg.append("text")
    .attr("transform", `translate(${p.titleX},${(p.top + p.bottom) / 2}) rotate(-90)`)
    .attr("text-anchor", "middle").attr("font-size", "8.5px").attr("font-weight", "bold")
    .attr("fill", p.color).text(p.title);

  const yTop = Math.floor(p.top) + 0.5;
  const yBot = Math.ceil(p.bottom) - 0.5;
  const first = i === 0, last = i === panels.length - 1;
  const f = svg.append("g").attr("shape-rendering", "crispEdges");
  f.append("line").attr("x1", X0 + 0.5).attr("x2", X0 + 0.5).attr("y1", yTop).attr("y2", yBot).attr("stroke", "#cfcfcf");
  f.append("line").attr("x1", X1 - 0.5).attr("x2", X1 - 0.5).attr("y1", yTop).attr("y2", yBot).attr("stroke", "#cfcfcf");
  f.append("line").attr("x1", X0).attr("x2", X1).attr("y1", yTop).attr("y2", yTop)
    .attr("stroke", first ? "#cfcfcf" : "#333");
  f.append("line").attr("x1", X0).attr("x2", X1).attr("y1", yBot).attr("y2", yBot)
    .attr("stroke", last ? "#cfcfcf" : "#333");
});

// time axis
{
  const last = panels[panels.length - 1];
  const ax = svg.append("g").attr("transform", `translate(0,${last.bottom})`)
    .call(d3.axisBottom(x).tickValues(monthDates).tickSize(2).tickPadding(2).tickFormat(d3.timeFormat("%Y-%m")));
  ax.select(".domain").remove();
  ax.selectAll("line").attr("stroke", "#777");
  ax.selectAll("text").attr("font-size", "6.5px").attr("fill", "#444").attr("font-family", "DejaVu Sans, sans-serif");

  svg.append("text").attr("x", 557).attr("y", 636).attr("font-size", "9.5px").attr("font-weight", "bold").attr("fill", "#111").text("NaBa");
  svg.append("text").attr("x", 596).attr("y", 636).attr("font-size", "9.5px").attr("font-weight", "bold").attr("fill", "#111").text("Local Time");
}

// station logo
{
  const g = svg.append("g").attr("transform", "translate(1096,623)");
  g.append("circle").attr("r", 14).attr("fill", "#e4e6ee");
  g.append("path").attr("d", "M-10,2 C-6,2 -5,-5 -1,-5 C3,-5 2,5 6,5 C8,5 9,2 10,1")
    .attr("fill", "none").attr("stroke", "#fff").attr("stroke-width", 2.2).attr("stroke-linecap", "round");
  g.append("path").attr("d", "M-9,-1 L-4,-1 M4,2 L9,2").attr("stroke", "#fff").attr("stroke-width", 1.4);
}
</script>
</body>
</html>
